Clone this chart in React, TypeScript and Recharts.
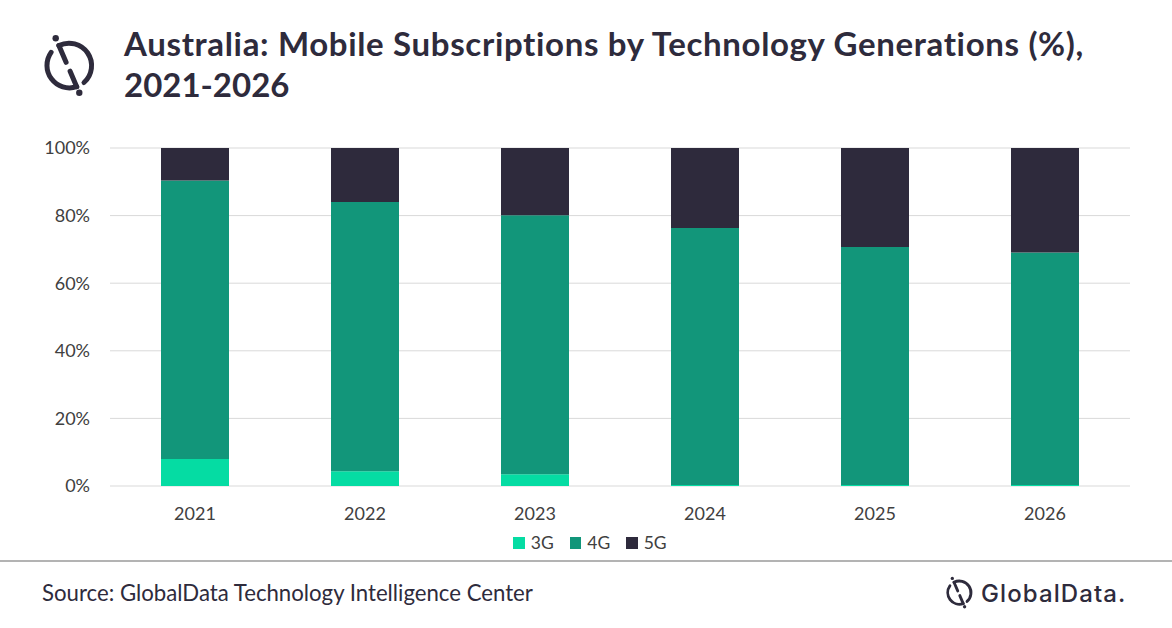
import React from 'react';
import { BarChart, Bar, XAxis, YAxis, CartesianGrid, Legend } from 'recharts';

const years = ['2021', '2022', '2023', '2024', '2025', '2026'];
const g3 = [8.0, 4.4, 3.5, 0.3, 0.3, 0.3];
const g4 = [82.4, 79.6, 76.6, 76.0, 70.4, 68.8];
const g5 = [9.6, 16.0, 19.9, 23.7, 29.3, 30.9];
const yTicks = [0, 20, 40, 60, 80, 100];
const seriesNames = ['3G', '4G', '5G'];
const seriesColors = ['#05dca3', '#12967a', '#2e2a3c'];

const data = years.map((y, i) => ({ year: y, '3G': g3[i], '4G': g4[i], '5G': g5[i] }));

const INK = '#2e2b3c';
const FONT = 'Lato, "Open Sans", sans-serif';

function LogoIcon({ cx, cy, s, sw }: { cx: number; cy: number; s: number; sw: number }) {
  return (
    <g transform={`translate(${cx},${cy}) scale(${s})`} stroke={INK} strokeWidth={sw} fill="none" strokeLinecap="round">
      <path d="M -10.6 -19.7 A 22.5 22.5 0 0 1 14.5 17.2" />
      <path d="M -10.6 -19.7 L -3.4 -3.0" />
      <path d="M -18.4 -12.9 A 22.5 22.5 0 0 0 7.2 21.4" />
      <path d="M 7.2 21.4 L 0.6 5.9" />
      <circle cx={-13.8} cy={-27} r={3.2} fill={INK} stroke="none" />
      <circle cx={9.8} cy={27.4} r={3.2} fill={INK} stroke="none" />
    </g>
  );
}

function LegendContent(props: any) {
  const payload = props.payload || [];
  return (
    <div style={{ display: 'flex', justifyContent: 'center', alignItems: 'center', fontFamily: FONT, fontSize: 17.5, color: '#404040', paddingLeft: 8, lineHeight: '22px' }}>
      {payload.map((p: any, i: number) => (
        <div key={i} style={{ display: 'flex', alignItems: 'center', marginRight: i < payload.length - 1 ? 16 : 0 }}>
          <span style={{ display: 'inline-block', width: 11.5, height: 11.5, background: p.color, marginRight: 6 }} />
          <span>{p.value}</span>
        </div>
      ))}
    </div>
  );
}

export default function App() {
  return (
    <div style={{ position: 'absolute', left: 0, top: 0, width: 1172, height: 628, background: '#fff', overflow: 'hidden' }}>
      <BarChart
        width={1172}
        height={628}
        data={data}
        margin={{ top: 148, right: 42, left: 0, bottom: 112 }}
      >
        <CartesianGrid vertical={false} stroke="#d9d9d9" strokeWidth={1} />
        <XAxis
          dataKey="year"
          axisLine={false}
          tickLine={false}
          tickMargin={15}
          height={30}
          tick={{ fill: '#404040', fontSize: 18, fontFamily: FONT }}
        />
        <YAxis
          domain={[0, 100]}
          ticks={yTicks}
          tickFormatter={(v: number) => `${v}%`}
          axisLine={false}
          tickLine={false}
          width={110}
          tickMargin={14}
          tick={{ fill: '#404040', fontSize: 18, fontFamily: FONT }}
        />
        <Legend
          layout="horizontal"
          verticalAlign="middle"
          align="center"
          wrapperStyle={{ top: 532, left: 0, width: 1172 }}
          content={<LegendContent />}
        />
        {seriesNames.map((n, i) => (
          <Bar key={n} dataKey={n} stackId="a" fill={seriesColors[i]} barSize={68} isAnimationActive={false} />
        ))}
      </BarChart>
      <svg width={1172} height={628} style={{ position: 'absolute', left: 0, top: 0, pointerEvents: 'none' }}>
        <LogoIcon cx={69.5} cy={65.3} s={1} sw={5} />
        <text x={124} y={56} fontFamily={FONT} fontWeight={700} fontSize={33} letterSpacing={0.66} fill={INK}>
          Australia: Mobile Subscriptions by Technology Generations (%),
        </text>
        <text x={124} y={96.5} fontFamily={FONT} fontWeight={700} fontSize={33} fill={INK}>
          2021-2026
        </text>
        <line x1={0} x2={1172} y1={561} y2={561} stroke="#9a9a9a" strokeWidth={1.5} />
        <text x={42} y={601} fontFamily={FONT} fontSize={22.2} fill={INK}>
          Source: GlobalData Technology Intelligence Center
        </text>
        <LogoIcon cx={959.5} cy={592.5} s={0.52} sw={5.5} />
        <text x={981} y={602} fontFamily='Inter, "Noto Sans", sans-serif' fontWeight={500} fontSize={24} fill={INK} letterSpacing={1.1}>
          GlobalData.
        </text>
      </svg>
    </div>
  );
}
